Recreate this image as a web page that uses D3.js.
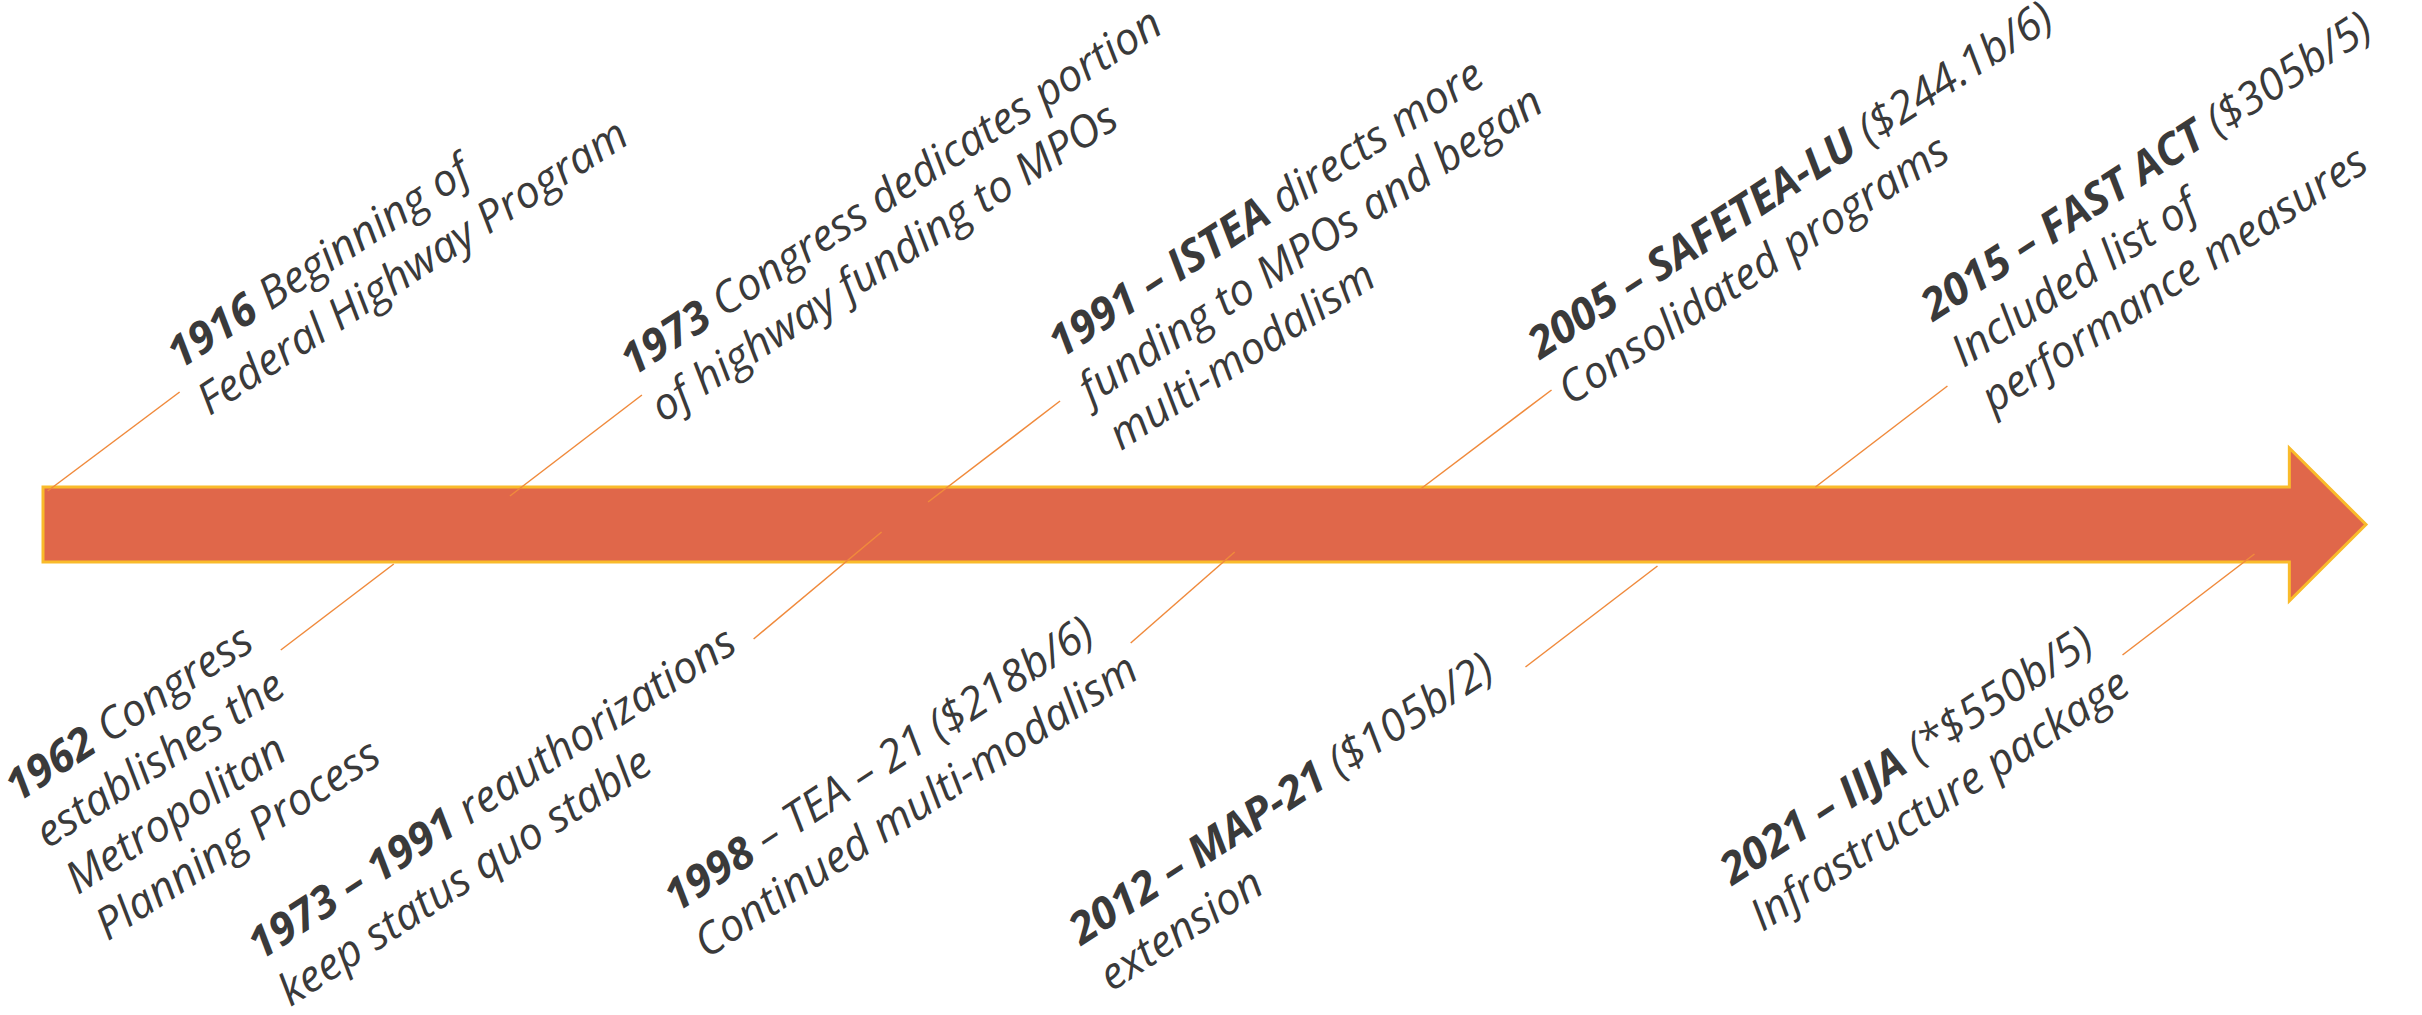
<!DOCTYPE html>
<html>
<head>
<meta charset="utf-8">
<script src="https://cdn.jsdelivr.net/npm/d3@7"></script>
<style>
	body { margin: 0; background: #fff; }
	#chart text { font-family: "Open Sans", sans-serif; font-style: italic; fill: #3a3a3a; }
</style>
</head>
<body>
<svg id="chart"></svg>
<script>
// milestones, top row first then bottom row
const heads = ["1916", "1973", "1991 – ISTEA", "2005 – SAFETEA-LU", "2015 – FAST ACT",
	"1962", "1973 – 1991", "1998", "2012 – MAP-21", "2021 – IIJA"];
const tails = [" Beginning of", " Congress dedicates portion", " directs more", " ($244.1b/6)", " ($305b/5)",
	" Congress", " reauthorizations", " – TEA – 21 ($218b/6)", " ($105b/2)", " (*$550b/5)"];
const extraLines = [
	["Federal Highway Program"],
	["of highway funding to MPOs"],
	["funding to MPOs and began", "multi-modalism"],
	["Consolidated programs"],
	["Included list of", "performance measures"],
	["establishes the", "Metropolitan", "Planning Process"],
	["keep status quo stable"],
	["Continued multi-modalism"],
	["extension"],
	["Infrastructure package"]
];
const sides = ["top", "top", "top", "top", "top", "bottom", "bottom", "bottom", "bottom", "bottom"];
// where each leader touches the arrow, % of the arrow length
const marks = [0.2, 20.1, 38.1, 59.3, 76.3, 15.1, 36.1, 51.3, 69.5, 95.2];

// layout: leader [start offset from arrow edge, dx, dy], label offset from leader end
const leaders = [[4, 132, -99], [9, 132, -101], [15, 132, -101], [2, 131, -99], [0, 132, -101],
	[2, -113, 86], [-30, -128, 107], [-10, -104, 91], [4, -132, 101], [-8, -132, 101]];
const labelOffsets = [[0, -22], [-9, -18], [1, -42], [-11, -30], [-14, -64],
	[-263, 153], [-493, 322], [-454, 270], [-444, 279], [-390, 231]];

var width = 2422, height = 1015,
	cy = 524.5, bodyHalf = 37.5, headHalf = 76.5, headStart = 96.7,
	fontSize = 44, lineStep = 55, angle = -33;

var x = d3.scaleLinear().domain([0, 100]).range([43, 2366]);

var svg = d3.select("#chart")
	.attr("width", width)
	.attr("height", height);

// arrow
var p = d3.path();
p.moveTo(x(0), cy - bodyHalf);
p.lineTo(x(headStart), cy - bodyHalf);
p.lineTo(x(headStart), cy - headHalf);
p.lineTo(x(100), cy);
p.lineTo(x(headStart), cy + headHalf);
p.lineTo(x(headStart), cy + bodyHalf);
p.lineTo(x(0), cy + bodyHalf);
p.closePath();

svg.append("path")
	.attr("d", p.toString())
	.attr("fill", "#e0674a")
	.attr("stroke", "#f9bb2b")
	.attr("stroke-width", 3)
	.attr("stroke-linejoin", "miter");

var items = heads.map(function(h, i) {
	var edge = sides[i] == "top" ? cy - bodyHalf : cy + bodyHalf;
	var x0 = x(marks[i]), y0 = edge + leaders[i][0];
	return {
		head: h, tail: tails[i], lines: extraLines[i],
		x0: x0, y0: y0,
		x1: x0 + leaders[i][1], y1: y0 + leaders[i][2],
		lx: x0 + leaders[i][1] + labelOffsets[i][0],
		ly: y0 + leaders[i][2] + labelOffsets[i][1]
	};
});

svg.selectAll(".leader")
	.data(items)
	.enter()
	.append("line")
	.attr("class", "leader")
	.attr("x1", function(d) { return d.x0; })
	.attr("y1", function(d) { return d.y0; })
	.attr("x2", function(d) { return d.x1; })
	.attr("y2", function(d) { return d.y1; })
	.attr("stroke", "#f08a3c")
	.attr("stroke-width", 1.5);

var labels = svg.selectAll(".label")
	.data(items)
	.enter()
	.append("text")
	.attr("class", "label")
	.attr("font-size", fontSize)
	.attr("transform", function(d) { return "translate(" + d.lx + "," + d.ly + ") rotate(" + angle + ")"; });

labels.append("tspan")
	.attr("x", 0)
	.attr("y", 0)
	.attr("font-weight", 700)
	.text(function(d) { return d.head; });

labels.append("tspan")
	.text(function(d) { return d.tail; });

labels.each(function(d) {
	var t = d3.select(this);
	d.lines.forEach(function(l, k) {
		t.append("tspan")
			.attr("x", 0)
			.attr("y", (k + 1) * lineStep)
			.text(l);
	});
});
</script>
</body>
</html>
